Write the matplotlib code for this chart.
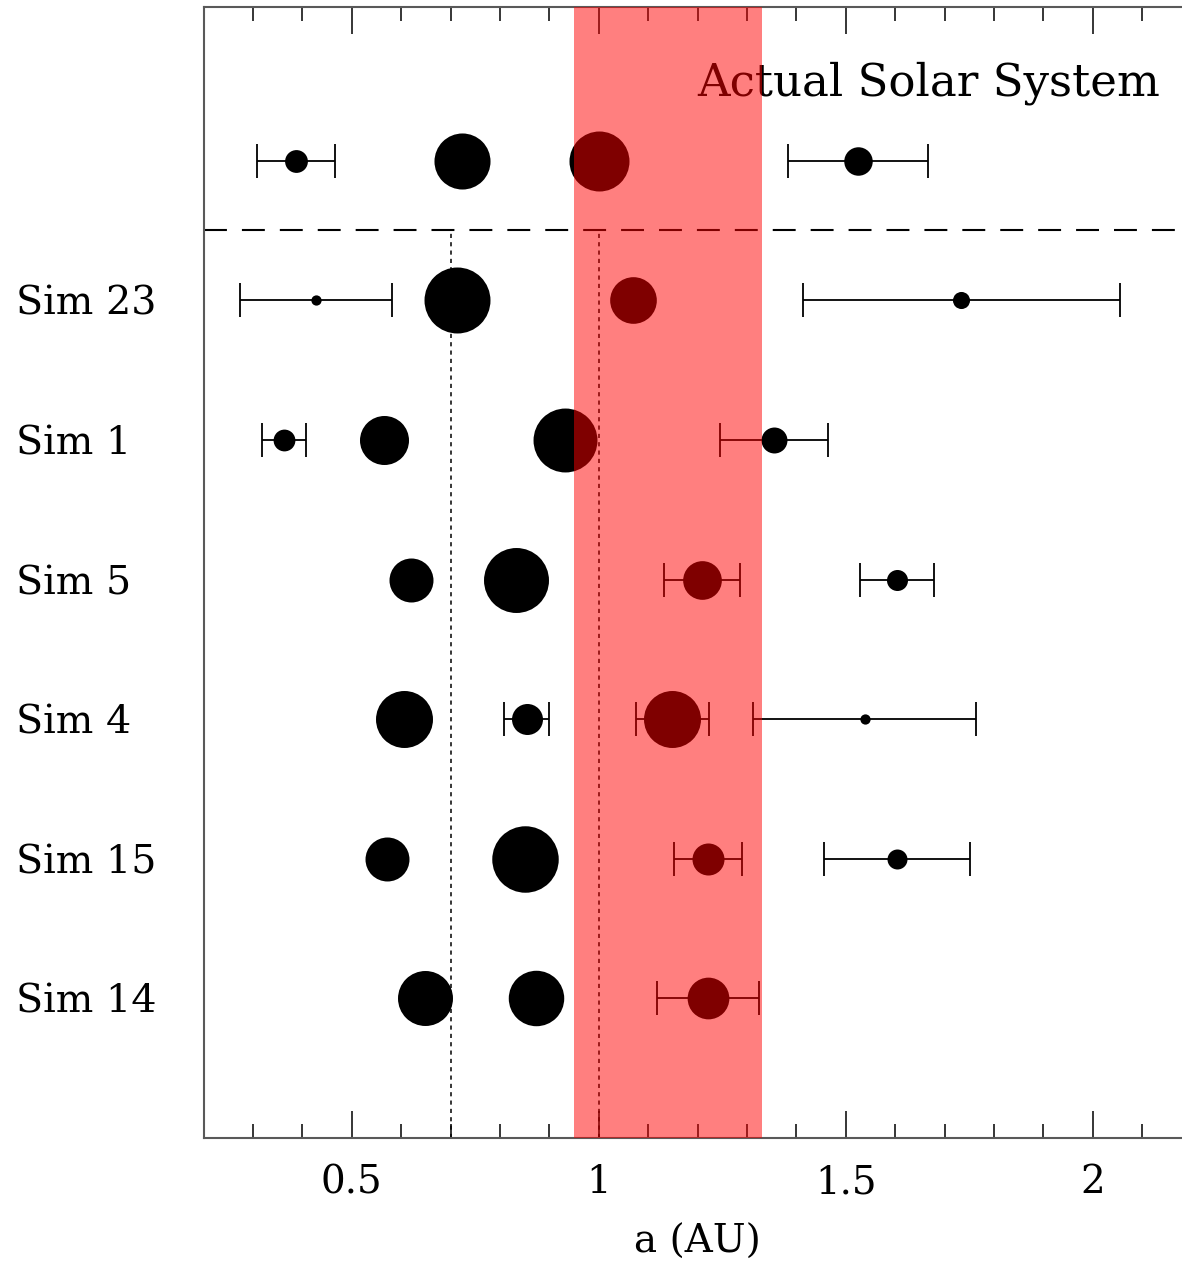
import numpy as np
import matplotlib.pyplot as plt
from matplotlib.ticker import MultipleLocator

plt.rcParams['font.family'] = 'DejaVu Serif'
plt.rcParams['lines.scale_dashes'] = False

# semi-major axis (AU), mass (Earth masses), eccentricity for each planet
actual_a = [0.387, 0.723, 1.000, 1.524]
actual_m = [0.055, 0.815, 1.000, 0.107]
actual_e = [0.206, 0.007, 0.017, 0.093]

sim_names = ["Sim 23", "Sim 1", "Sim 5", "Sim 4", "Sim 15", "Sim 14"]

sim23_a = [0.428, 0.714, 1.069, 1.734]
sim23_m = [0.005, 1.33, 0.47, 0.023]
sim23_e = [0.358, 0.02, 0.02, 0.185]

sim1_a = [0.363, 0.566, 0.931, 1.355]
sim1_m = [0.048, 0.545, 1.21, 0.081]
sim1_e = [0.124, 0.03, 0.02, 0.081]

sim5_a = [0.620, 0.832, 1.209, 1.603]
sim5_m = [0.394, 1.27, 0.268, 0.043]
sim5_e = [0.03, 0.02, 0.064, 0.047]

sim4_a = [0.605, 0.854, 1.149, 1.538]
sim4_m = [0.857, 0.138, 0.857, 0.005]
sim4_e = [0.03, 0.053, 0.064, 0.147]

sim15_a = [0.572, 0.850, 1.221, 1.603]
sim15_m = [0.394, 1.36, 0.152, 0.037]
sim15_e = [0.03, 0.02, 0.057, 0.092]

sim14_a = [0.649, 0.873, 1.221]
sim14_m = [0.77, 0.79, 0.336]
sim14_e = [0.03, 0.03, 0.084]

hz_inner, hz_outer = 0.95, 1.33

systems = [
    (actual_a, actual_m, actual_e),
    (sim23_a, sim23_m, sim23_e),
    (sim1_a, sim1_m, sim1_e),
    (sim5_a, sim5_m, sim5_e),
    (sim4_a, sim4_m, sim4_e),
    (sim15_a, sim15_m, sim15_e),
    (sim14_a, sim14_m, sim14_e),
]

fig = plt.figure(figsize=(11.82, 12.61), dpi=100)
ax = fig.add_axes([0.1722, 0.0975, 0.836, 0.8969])

EARTH_MS = 43.2  # marker size (pt) of a one Earth-mass planet

nrow = len(systems)
for i, (a, m, e) in enumerate(systems):
    y = nrow - i
    a = np.array(a)
    e = np.array(e)
    # pericentre–apocentre range as horizontal bars
    ax.errorbar(a, np.full(len(a), y), xerr=a * e, fmt='none',
                ecolor='black', elinewidth=1.3, capsize=12, capthick=1.3,
                zorder=2)
    for ai, mi in zip(a, m):
        ax.plot(ai, y, 'o', color='black', ms=EARTH_MS * mi ** (1 / 3),
                mew=0, zorder=3)

# separator between the real system and the simulations
ax.axhline(6.5, color='black', lw=1.5, dashes=(16.5, 10.8), zorder=2)
ax.vlines([0.7, 1.0], 0, 6.5, colors='black', lw=1.1,
          linestyles=[(0, (3, 3))], zorder=1)

ax.text(1.2, 7.47, "Actual Solar System", fontsize=32.5, va='baseline',
        ha='left', zorder=3)

ax.axvspan(hz_inner, hz_outer, color='red', alpha=0.5, lw=0, zorder=10)

ax.set_xlim(0.2, 2.2)
ax.set_ylim(0, 8.1)

ax.xaxis.set_major_locator(MultipleLocator(0.5))
ax.xaxis.set_minor_locator(MultipleLocator(0.1))
ax.xaxis.set_major_formatter(lambda v, p: f"{v:g}")
ax.tick_params(axis='x', which='both', direction='in', top=True,
               bottom=True, color='black', width=1.1, labelsize=28, pad=19)
ax.tick_params(axis='x', which='major', length=19.5)
ax.tick_params(axis='x', which='minor', length=10)

ax.set_yticks(np.arange(nrow - 1, 0, -1), sim_names)
ax.tick_params(axis='y', length=0, labelsize=28.5, pad=135)
for lab in ax.get_yticklabels():
    lab.set_horizontalalignment('left')

for s in ax.spines.values():
    s.set_color('0.35')
    s.set_linewidth(1.5)

ax.set_xlabel("a (AU)", fontsize=28, labelpad=16)

fig.savefig("out.png", dpi=100)
